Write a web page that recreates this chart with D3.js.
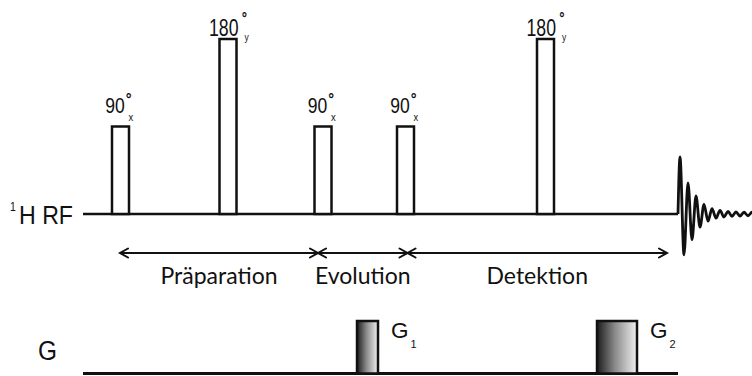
<!DOCTYPE html>
<html>
<head>
<meta charset="utf-8">
<script src="https://cdn.jsdelivr.net/npm/d3@7"></script>
<style>
  body { margin: 0; background: #fff; }
  svg { display: block; }
</style>
</head>
<body>
<svg id="chart" width="752" height="376"></svg>
<script>
// RF pulses: centre time (ms), flip angle (deg), phase axis
const pulseTime  = [7.5, 29, 48, 64.5, 92.5];
const pulseAngle = [90, 180, 90, 90, 180];
const pulsePhase = ["x", "y", "x", "x", "y"];
const pulseWidth = 3.4;

// Gradient lobes on the G channel
const gradStart = [54.8, 102.8];
const gradEnd   = [59, 110.8];
const gradAmp   = [1, 1];
const gradName  = ["1", "2"];

// Sequence periods and their boundaries (ms)
const phaseNames  = ["Präparation", "Evolution", "Detektion"];
const phaseBounds = [7.4, 47, 64.9, 116.8];

// Acquisition: free induction decay, extrema after acquisition start
const acqStart = 119;
const fidTime = [0, 0.4, 1.2, 2.0, 2.8, 3.6, 4.4, 5.2, 6.0, 6.8, 7.6, 8.4, 9.2, 10.0, 10.8, 11.6, 12.4, 13.2, 14.0, 14.8, 15.6];
const fidAmp  = [0, 0.95, -0.68, 0.52, -0.43, 0.30, -0.22, 0.16, -0.12, 0.09, -0.07, 0.06, -0.05, 0.045, -0.04, 0.035, -0.035, 0.03, -0.03, 0.03, -0.02];

const svg = d3.select("#chart");

const x = d3.scaleLinear().domain([0, 134]).range([83, 753]);
const yRF = d3.scaleLinear().domain([0, 180]).range([214, 39]);
const yG = d3.scaleLinear().domain([0, 1]).range([373.5, 321]);
const yFID = d3.scaleLinear().domain([-1, 1]).range([274, 154]);

const ink = "#111";
const numFont = "'Liberation Sans', Arial, sans-serif";
const phaseFont = "Lato, 'Open Sans', sans-serif";

// gradient fill for the G lobes
const defs = svg.append("defs");
const lg = defs.append("linearGradient").attr("id", "lobeFill")
  .attr("x1", 0).attr("x2", 1).attr("y1", 0).attr("y2", 0);
lg.append("stop").attr("offset", "0%").attr("stop-color", "#1c1c1c");
lg.append("stop").attr("offset", "45%").attr("stop-color", "#8a8a8a");
lg.append("stop").attr("offset", "100%").attr("stop-color", "#f2f2f2");

// ---- RF channel ----
svg.append("line")
  .attr("x1", x(0)).attr("x2", x(acqStart))
  .attr("y1", yRF(0)).attr("y2", yRF(0))
  .attr("stroke", ink).attr("stroke-width", 2.5);

const pulses = pulseTime.map((t, i) => ({ t, angle: pulseAngle[i], phase: pulsePhase[i] }));

svg.append("g").selectAll("rect").data(pulses).join("rect")
  .attr("x", d => x(d.t - pulseWidth / 2))
  .attr("width", d => x(d.t + pulseWidth / 2) - x(d.t - pulseWidth / 2))
  .attr("y", d => yRF(d.angle))
  .attr("height", d => yRF(0) - yRF(d.angle))
  .attr("fill", "#fff").attr("stroke", ink).attr("stroke-width", 2.5);

// flip-angle labels: condensed number, bold degree ring, phase subscript
const labelStyle = {
  90:  { size: 21.5, w: 19.5, right: 4.3,  base: -14, degDx: 1.0, degTop: -20, subDx: 3.8, subBase: 8.5, subSize: 11.5 },
  180: { size: 24,   w: 29.5, right: 10.5, base: -3,  degDx: 3.3, degTop: -25, subDx: 6,   subBase: 4.5, subSize: 11.5 }
};
const degSize = 18;
const lab = svg.append("g").attr("fill", ink).attr("font-family", numFont);
pulses.forEach(d => {
  const s = labelStyle[d.angle];
  const str = String(d.angle);
  const k = s.w / (0.556 * s.size * str.length);       // horizontal condensing
  const R = x(d.t) + s.right;
  const B = yRF(d.angle) + s.base;
  const degDy = s.degTop + 0.716 * degSize;             // baseline shift for the ring
  const penAfterDeg = s.degDx + 0.4 * degSize * k;      // screen px past the number
  const t = lab.append("text")
    .attr("transform", `translate(${R - s.w},${B}) scale(${k},1)`);
  t.append("tspan").attr("x", 0).attr("y", 0).attr("font-size", s.size).text(str);
  t.append("tspan")
    .attr("dx", s.degDx / k).attr("dy", degDy)
    .attr("font-size", degSize).attr("font-weight", "bold").text("°");
  t.append("tspan")
    .attr("dx", (s.subDx - penAfterDeg) / k).attr("dy", s.subBase - degDy)
    .attr("font-size", s.subSize).text(d.phase);
});

// channel label ¹H RF
{
  const k = 54 / (2.333 * 26.5);
  const t = svg.append("text")
    .attr("transform", `translate(10,224) scale(${k},1)`)
    .attr("font-family", numFont).attr("fill", ink);
  t.append("tspan").attr("x", 0).attr("dy", -13).attr("font-size", 12).text("1");
  t.append("tspan").attr("dx", (19 - 10 - 0.556 * 12 * k) / k).attr("dy", 13)
    .attr("font-size", 26.5).text("H RF");
}

// FID
const fid = fidTime.map((t, i) => ({ t: acqStart + t, a: fidAmp[i] }));
svg.append("path").datum(fid)
  .attr("d", d3.line().x(d => x(d.t)).y(d => yFID(d.a)).curve(d3.curveMonotoneX))
  .attr("fill", "none").attr("stroke", ink).attr("stroke-width", 2.8)
  .attr("stroke-linejoin", "round");

// ---- sequence periods ----
const arrowY = 253;
const per = svg.append("g");
phaseNames.forEach((name, i) => {
  const x0 = x(phaseBounds[i]), x1 = x(phaseBounds[i + 1]);
  per.append("line").attr("x1", x0).attr("x2", x1).attr("y1", arrowY).attr("y2", arrowY)
    .attr("stroke", ink).attr("stroke-width", 2);
  per.append("path")
    .attr("d", `M${x0 + 8},${arrowY - 4.5}L${x0},${arrowY}L${x0 + 8},${arrowY + 4.5}` +
               `M${x1 - 8},${arrowY - 4.5}L${x1},${arrowY}L${x1 - 8},${arrowY + 4.5}`)
    .attr("fill", "none").attr("stroke", ink).attr("stroke-width", 2)
    .attr("stroke-linecap", "round");
  per.append("text")
    .attr("x", (x0 + x1) / 2).attr("y", 284)
    .attr("text-anchor", "middle")
    .attr("font-family", phaseFont).attr("font-size", 23).attr("fill", ink)
    .text(name);
});

// ---- gradient channel ----
svg.append("line")
  .attr("x1", x(0)).attr("x2", x(acqStart))
  .attr("y1", yG(0)).attr("y2", yG(0))
  .attr("stroke", ink).attr("stroke-width", 3);

const lobes = gradStart.map((s, i) => ({ s, e: gradEnd[i], a: gradAmp[i], name: gradName[i] }));
svg.append("g").selectAll("rect").data(lobes).join("rect")
  .attr("x", d => x(d.s)).attr("width", d => x(d.e) - x(d.s))
  .attr("y", d => yG(d.a)).attr("height", d => yG(0) - yG(d.a))
  .attr("fill", "url(#lobeFill)").attr("stroke", ink).attr("stroke-width", 2.5);

lobes.forEach(d => {
  const t = svg.append("text").attr("x", x(d.e) + 13).attr("y", 338.3)
    .attr("font-family", numFont).attr("fill", ink);
  t.append("tspan").attr("font-size", 22.5).text("G");
  t.append("tspan").attr("dx", 2).attr("dy", 9.7).attr("font-size", 11).text(d.name);
});

svg.append("text")
  .attr("transform", `translate(38,360) scale(${19 / (0.778 * 28)},1)`)
  .attr("font-family", numFont).attr("font-size", 28).attr("fill", ink)
  .text("G");
</script>
</body>
</html>
